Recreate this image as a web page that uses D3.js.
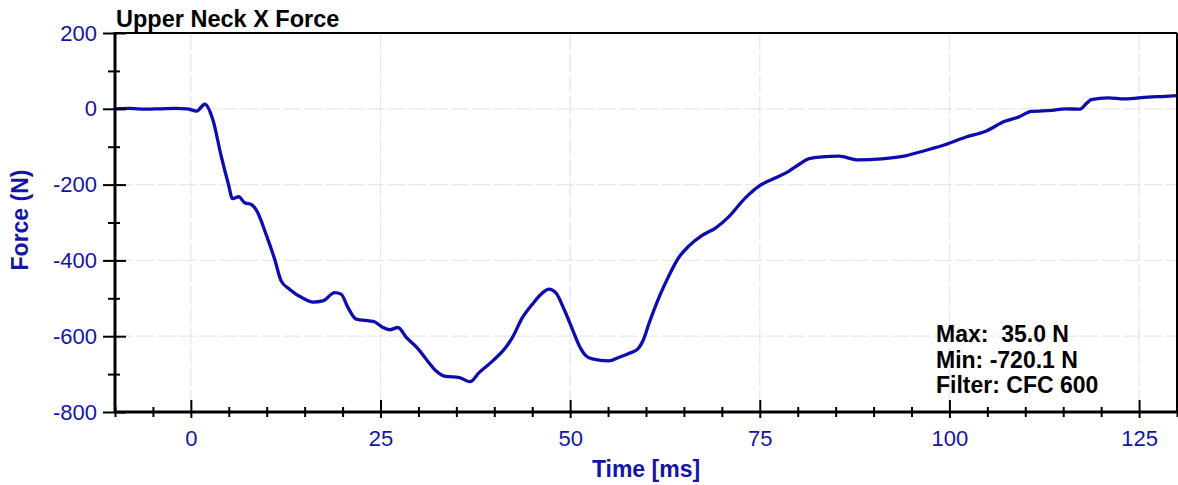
<!DOCTYPE html>
<html>
<head>
<meta charset="utf-8">
<script src="https://cdn.jsdelivr.net/npm/d3@7"></script>
<style>
  html, body { margin: 0; padding: 0; background: #fff; }
  svg { display: block; font-family: Arial, "Liberation Sans", Helvetica, sans-serif; }
</style>
</head>
<body>
<svg id="chart" width="1178" height="485"></svg>
<script>
// Upper neck X force trace (time in ms, force in N)
const timeMs = [
  -10, -8, -6, -4, -2, -0.5, 0.75, 1.85, 2.9, 4.0, 4.9, 5.5, 6.3, 7.1, 8.0, 8.6,
  10.0, 11.05, 11.9, 13.0, 14.8, 16.1, 17.4, 18.95, 19.8, 20.7, 21.8, 23.6, 24.2,
  25.3, 26.2, 27.3, 28.4, 29.9, 31.0, 32.3, 33.6, 35.4, 36.8, 38.0, 39.8, 41.5, 42.4,
  43.7, 45.0, 46.4, 47.2, 48.1, 49.2, 50.3, 51.2, 52.1, 52.9, 55.1, 56.4, 57.8, 58.9,
  59.6, 60.4, 61.7, 63.0, 64.3, 65.7, 67.4, 69.2, 70.9, 73.1, 74.9, 77.1, 78.8, 80.3,
  81.4, 83.2, 85.4, 88.0, 91.1, 94.2, 96.8, 99.4, 102.1, 104.7, 107.3, 109.1, 110.8,
  113.5, 115.3, 117.2, 118.1, 118.7, 120.9, 123.1, 126.2, 128.5, 130
];
const forceN = [
  0, 1, -1, 0, 1, 0, -6, 12, -29, -125, -195, -237, -232, -248, -253, -266,
  -336, -397, -454, -476, -500, -510, -507, -485, -489, -524, -555, -560, -562,
  -577, -583, -577, -603, -632, -660, -691, -706, -709, -720.1, -696, -665, -630, -603,
  -551, -516, -485, -476, -485, -529, -582, -625, -652, -660, -665, -656, -645, -634,
  -612, -566, -498, -441, -393, -361, -334, -314, -285, -235, -204, -182, -165, -145,
  -132, -127, -125, -135, -132, -124, -110, -95, -75, -60, -33, -22, -7,
  -4, 0, -1, 15, 24, 29, 26, 31, 33, 35.0
];

const xMajorTicks = [0, 25, 50, 75, 100, 125];
const yMajorTicks = [200, 0, -200, -400, -600, -800];
const statLines = ["Max:  35.0 N", "Min: -720.1 N", "Filter: CFC 600"];

const chartTitle = "Upper Neck X Force";
const xTitle = "Time [ms]";
const yTitle = "Force (N)";

const plot = { left: 115, right: 1177, top: 33, bottom: 412 };
const blue = "#1414a8";
const lineBlue = "#0c0cb0";
const tickFmt = d => String(d);

const svg = d3.select("#chart");
const x = d3.scaleLinear().domain([-10, 130]).range([plot.left, plot.right]);
const y = d3.scaleLinear().domain([-800, 200]).range([plot.bottom, plot.top]);

const xMinor = d3.range(-10, 131, 5).filter(v => !xMajorTicks.includes(v));
const yMinor = d3.range(-700, 200, 200);

// Grid
const grid = svg.append("g").attr("stroke", "#e8e8e8").attr("stroke-width", 1.3)
  .attr("stroke-dasharray", "18,3");
grid.selectAll("line.gx").data(xMajorTicks).join("line")
  .attr("x1", d => x(d)).attr("x2", d => x(d))
  .attr("y1", plot.top).attr("y2", plot.bottom);
grid.selectAll("line.gy").data(yMajorTicks.filter(d => d > -800 && d < 200)).join("line")
  .attr("x1", plot.left).attr("x2", plot.right)
  .attr("y1", d => y(d)).attr("y2", d => y(d));

// Data line
const pts = timeMs.map((t, i) => [t, forceN[i]]);
const line = d3.line().x(d => x(d[0])).y(d => y(d[1])).curve(d3.curveMonotoneX);
svg.append("path").datum(pts)
  .attr("d", line)
  .attr("fill", "none")
  .attr("stroke", lineBlue)
  .attr("stroke-width", 3.3)
  .attr("stroke-linejoin", "round")
  .attr("stroke-linecap", "round");

// Frame
svg.append("line").attr("x1", plot.left).attr("x2", plot.right)
  .attr("y1", plot.top).attr("y2", plot.top).attr("stroke", "#000").attr("stroke-width", 2);
svg.append("line").attr("x1", plot.right).attr("x2", plot.right)
  .attr("y1", plot.top).attr("y2", plot.bottom).attr("stroke", "#000").attr("stroke-width", 2);

function styleTicks(g) {
  g.select(".domain").remove();
  g.selectAll(".tick line").attr("stroke", "#000").attr("stroke-width", 2);
  g.selectAll(".tick text").attr("fill", blue).attr("font-size", 22)
    .attr("font-family", "Arial, 'Liberation Sans', sans-serif");
}

// Y axis: majors cross the axis line, minors are shorter
svg.append("g").attr("transform", `translate(${plot.left},0)`)
  .call(d3.axisLeft(y).tickValues(yMajorTicks).tickSize(12).tickPadding(6).tickFormat(tickFmt))
  .call(styleTicks);
svg.append("g").attr("transform", `translate(${plot.left},0)`)
  .call(d3.axisRight(y).tickValues(yMajorTicks).tickSize(11).tickFormat(""))
  .call(styleTicks);
svg.append("g").attr("transform", `translate(${plot.left},0)`)
  .call(d3.axisLeft(y).tickValues(yMinor).tickSize(7).tickFormat(""))
  .call(styleTicks);
svg.append("g").attr("transform", `translate(${plot.left},0)`)
  .call(d3.axisRight(y).tickValues(yMinor).tickSize(5).tickFormat(""))
  .call(styleTicks);

// X axis
svg.append("g").attr("transform", `translate(0,${plot.bottom})`)
  .call(d3.axisBottom(x).tickValues(xMajorTicks).tickSize(6).tickPadding(12).tickFormat(tickFmt))
  .call(styleTicks);
svg.append("g").attr("transform", `translate(0,${plot.bottom})`)
  .call(d3.axisTop(x).tickValues(xMajorTicks).tickSize(12).tickFormat(""))
  .call(styleTicks);
svg.append("g").attr("transform", `translate(0,${plot.bottom})`)
  .call(d3.axisBottom(x).tickValues(xMinor).tickSize(5).tickFormat(""))
  .call(styleTicks);
svg.append("g").attr("transform", `translate(0,${plot.bottom})`)
  .call(d3.axisTop(x).tickValues(xMinor).tickSize(5).tickFormat(""))
  .call(styleTicks);

// Axis lines
svg.append("line").attr("x1", plot.left).attr("x2", plot.left)
  .attr("y1", plot.top - 1).attr("y2", plot.bottom + 1).attr("stroke", "#000").attr("stroke-width", 3);
svg.append("line").attr("x1", plot.left - 1).attr("x2", plot.right + 1)
  .attr("y1", plot.bottom).attr("y2", plot.bottom).attr("stroke", "#000").attr("stroke-width", 3);

// Titles
svg.append("text").attr("x", 116).attr("y", 27)
  .attr("font-size", 23.5).attr("font-weight", "bold").attr("fill", "#000")
  .text(chartTitle);
svg.append("text").attr("x", 646).attr("y", 477).attr("text-anchor", "middle")
  .attr("font-size", 23).attr("font-weight", "bold").attr("fill", blue)
  .text(xTitle);
svg.append("text").attr("transform", "translate(28,220) rotate(-90)").attr("text-anchor", "middle")
  .attr("font-size", 23).attr("font-weight", "bold").attr("fill", blue)
  .text(yTitle);

// Summary statistics
svg.append("g").selectAll("text").data(statLines).join("text")
  .attr("x", 936).attr("y", (d, i) => 342 + i * 25.5)
  .attr("font-size", 23).attr("font-weight", "bold").attr("fill", "#000")
  .style("white-space", "pre")
  .text(d => d);
</script>
</body>
</html>
